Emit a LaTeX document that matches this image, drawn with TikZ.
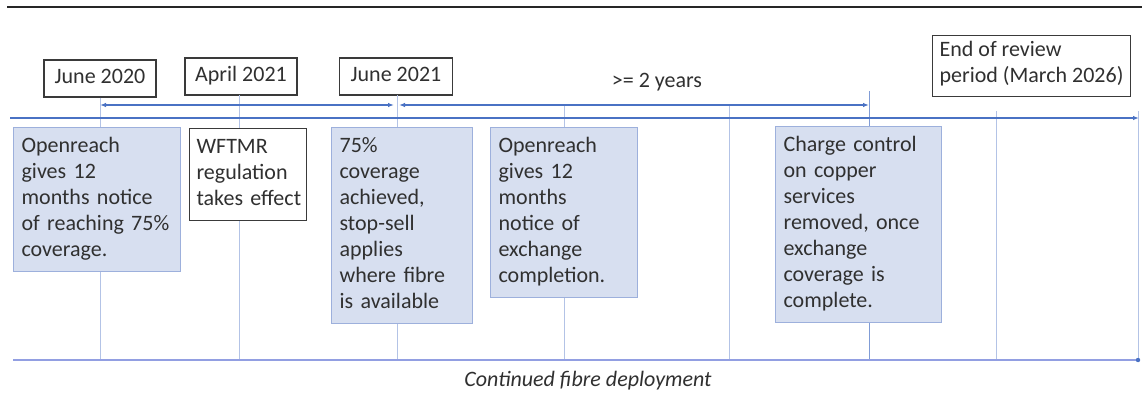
\documentclass[tikz,border=0pt]{standalone}
\usepackage{fontspec}
\setmainfont{Carlito}
\usetikzlibrary{arrows.meta}
\definecolor{txt}{HTML}{303030}
\definecolor{boxfill}{HTML}{D7DFF0}
\definecolor{boxline}{HTML}{9DB0DC}
\definecolor{tline}{HTML}{4A72C4}
\definecolor{vline}{HTML}{B3C3E6}
\definecolor{bline}{HTML}{929FE2}
\definecolor{dline}{HTML}{3A3A3A}
\hfuzz=20pt
\tikzset{
  every node/.style={font=\fontsize{22}{26}\selectfont, text=txt},
  evbox/.style={draw=boxline, line width=1.2pt, fill=boxfill, anchor=north west,
    align=left, inner xsep=8pt, inner ysep=7pt,
    execute at begin node=\strut, execute at end node=\strut},
  whitebox/.style={evbox, draw=dline, fill=white},
  datebox/.style={draw=dline, line width=1.2pt, fill=white, inner sep=5.5pt,
    execute at begin node=\strut, execute at end node=\strut},
  vl/.style={draw=vline, line width=0.9pt},
  arr/.style={draw=tline, line width=1.2pt, {Latex[length=6pt,width=4.5pt]}-{Latex[length=6pt,width=4.5pt]}},
}
\begin{document}
\begin{tikzpicture}[x=1pt,y=-1pt]
\useasboundingbox (0,0) rectangle (1142,394);
% top rule
\coordinate (rL) at (7,7); \coordinate (rR) at (1142,7);
\draw[draw=black!85, line width=2pt] (rL) -- (rR);

% date boxes
\node[datebox, minimum width=112pt] (d1) at (100,78.5) {June 2020};
\node[datebox, minimum width=112pt] (d2) at (241,76.5) {April 2021};
\node[datebox, minimum width=113pt] (d3) at (396,76.5) {June 2021};
\node[datebox, anchor=north west, align=left, inner xsep=7pt, inner ysep=6pt] (d4) at (932,35) {End of review\\period (March 2026)};
\node (yrs) at (657,82) {>= 2 years};

% timeline coordinates
\coordinate (tlL) at (10,118); \coordinate (tlR) at (1139,118);
\coordinate (blL) at (13,360); \coordinate (blR) at (1138,360);
\coordinate (v5) at (564,105); \coordinate (v6) at (729,105);
\coordinate (v7) at (869,91); \coordinate (v8) at (996,111);
\coordinate (v9) at (1138,111);

% vertical lines
\draw[vl] (d1.south) -- (d1.south |- blL);
\draw[vl] (239,95) coordinate (v2) -- (v2 |- blL);
\draw[vl] (397,95) coordinate (v3) -- (v3 |- blL);
\draw[vl] (v5) -- (v5 |- blL);
\draw[vl] (v6) -- (v6 |- blL);
\draw[vl, draw=tline!70] (v7) -- (v7 |- blL);
\draw[vl] (v8) -- (v8 |- blL);
\draw[vl] (v9) -- (v9 |- blL);

% arrows
\coordinate (a0) at (100,105); \coordinate (a1) at (394,105);
\coordinate (a2) at (399,105); \coordinate (a3) at (869,105);
\draw[arr] (a0) -- (a1);
\draw[arr] (a2) -- (a3);

% main timeline
\draw[draw=tline, line width=1.2pt, -{Latex[length=6pt,width=4.5pt]}] (tlL) -- (tlR);
% bottom line
\draw[draw=bline, line width=2.2pt] (blL) -- (blR);
\fill[tline] (blR) circle (2.2pt);

% event boxes
\node[evbox, text width=151pt] (b1) at (13,127) {Openreach\\gives 12\\months notice\\of reaching 75\%\\coverage.};
\node[whitebox, text width=103pt, inner xsep=7pt] (b2) at (189,128) {WFTMR\\regulation\\\mbox{takes effect}};
\node[evbox, text width=125pt] (b3) at (331,127) {75\%\\coverage\\achieved,\\stop-sell\\applies\\where fibre\\is available};
\node[evbox, text width=131pt] (b4) at (490,127) {Openreach\\gives 12\\months\\notice of\\exchange\\completion.};
\node[evbox, text width=150pt] (b5) at (775,126) {Charge control\\on copper\\services\\removed, once\\exchange\\coverage is\\complete.};

\node[font=\fontsize{22}{26}\selectfont\itshape] (cfd) at (588,381) {Continued fibre deployment};
\end{tikzpicture}
\end{document}
